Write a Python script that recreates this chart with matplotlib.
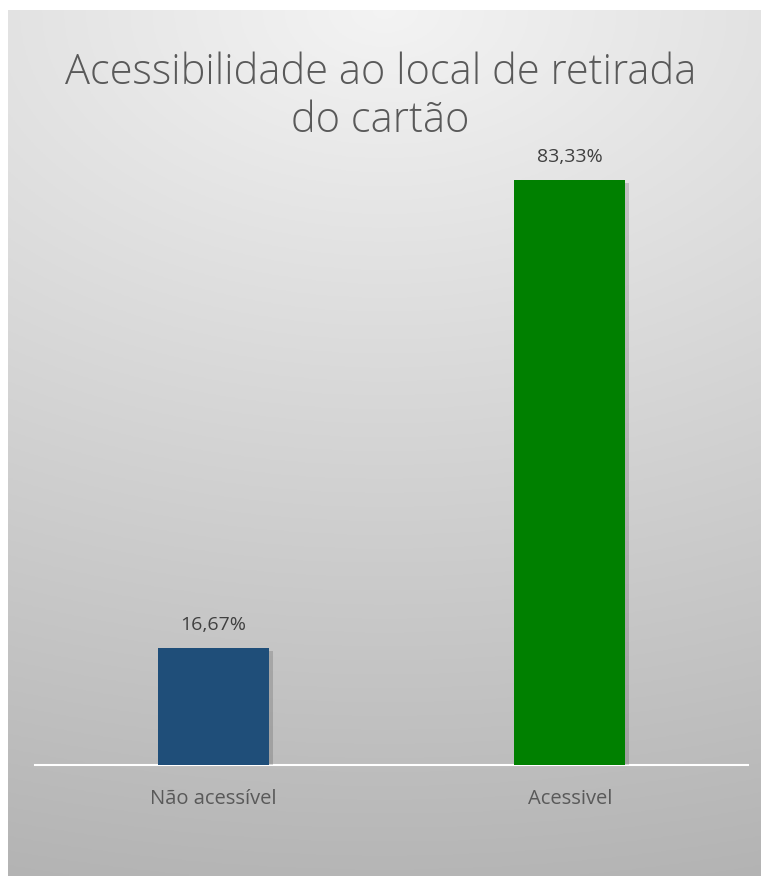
import numpy as np
import matplotlib
matplotlib.use("Agg")
import matplotlib.pyplot as plt
from matplotlib import patheffects as pe

categories = ["Não acessível", "Acessivel"]
values = [16.67, 83.33]
labels = ["16,67%", "83,33%"]
colors = ["#1F4E79", "#008000"]
title = "Acessibilidade ao local de retirada\ndo cartão"

W, H = 761, 876
fig = plt.figure(figsize=(W / 100, H / 100), dpi=100)
fig.patch.set_facecolor("white")

# background gradient panel
bg = fig.add_axes([8 / W, 0, 1 - 8 / W, 1 - 10 / H])
bg.set_axis_off()
ny, nx = 300, 300
yy, xx = np.mgrid[0:1:ny * 1j, 0:1:nx * 1j]
r = np.sqrt(((xx - 0.5) * 0.55) ** 2 + (yy * 1.0) ** 2)
r = np.clip(r / 1.03, 0, 1)
v = 0.955 - 0.25 * r
img = np.dstack([v, v, v])
bg.imshow(img, aspect="auto", extent=[0, 1, 0, 1], origin="upper")
bg.set_xlim(0, 1)
bg.set_ylim(0, 1)

# main axes: baseline at y=765 px, x from 35 to 748 px
left, right = 35, 748
base = 765
ymax = 90
px_per_unit = 585 / 83.33
top = base - ymax * px_per_unit
ax = fig.add_axes([left / W, (H - base) / H, (right - left) / W, (base - top) / H])
ax.patch.set_alpha(0)
x = np.arange(len(categories))
bars = ax.bar(x, values, width=0.311, color=colors, zorder=3)
for b in bars:
    b.set_path_effects([pe.SimplePatchShadow(offset=(3, -2), shadow_rgbFace="#000000", alpha=0.15), pe.Normal()])
ax.set_xlim(-0.5, 1.5)
ax.set_ylim(0, ymax)
for s in ["top", "right", "left"]:
    ax.spines[s].set_visible(False)
ax.spines["bottom"].set_color("white")
ax.spines["bottom"].set_linewidth(1.5)
ax.set_yticks([])
ax.set_xticks(x)
ax.set_xticklabels(categories, fontsize=14.5, color="#595959", family="Open Sans")
ax.tick_params(axis="x", length=0, pad=17)
for xi, val, lab in zip(x, values, labels):
    ax.annotate(lab, (xi, val), xytext=(0, 10), textcoords="offset points",
                ha="center", va="bottom", fontsize=14, color="#404040", family="Open Sans")

fig.text(0.5, 1 - 97 / H, title, ha="center", va="center", fontsize=30,
         color="#595959", family="Open Sans", fontweight="light", linespacing=1.18)

fig.savefig("out.png", dpi=100)
